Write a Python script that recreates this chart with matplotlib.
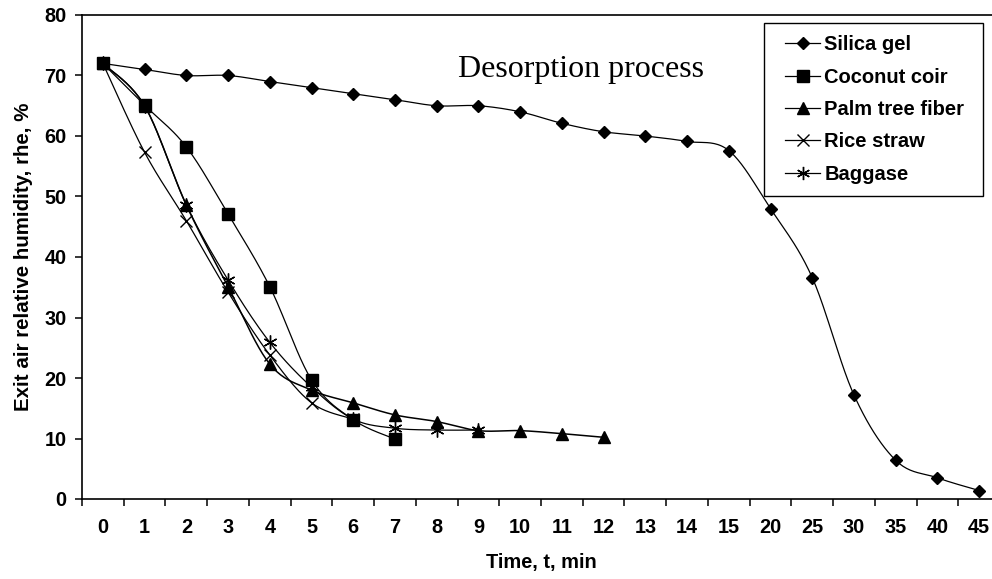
import numpy as np
import matplotlib
matplotlib.use('Agg')
import matplotlib.pyplot as plt
from matplotlib.lines import Line2D
from matplotlib.patches import Rectangle

plt.rcParams['font.family'] = ['Liberation Sans', 'DejaVu Sans']
plt.rcParams['font.weight'] = 'bold'

# time axis is categorical (evenly spaced labels)
time_labels = ['0', '1', '2', '3', '4', '5', '6', '7', '8', '9', '10', '11',
               '12', '13', '14', '15', '20', '25', '30', '35', '40', '45']

silica_gel = [72, 71, 70, 70, 69, 68, 67, 66, 65, 65, 64, 62.1, 60.7, 60, 59.1,
              57.6, 48, 36.6, 17.2, 6.4, 3.5, 1.4]
coconut_coir = [72, 65.1, 58.2, 47.1, 35.1, 19.7, 13.1, 9.9]
palm_fiber = [72, 65, 48.6, 35.1, 22.3, 18.0, 15.9, 13.9, 12.8, 11.3, 11.3, 10.8, 10.2]
rice_straw = [72, 57.3, 46.0, 34.2, 23.8, 15.9, 13.2]
baggase = [72, 65, 48.6, 36.2, 25.9, 18.5, 13.2, 11.7, 11.4, 11.4]

series_names = ['Silica gel', 'Coconut coir', 'Palm tree fiber', 'Rice straw', 'Baggase']
series_data = [silica_gel, coconut_coir, palm_fiber, rice_straw, baggase]


def smooth(xs, ys, n=24):
    # catmull-rom style curve, like excel "smoothed line"
    xs = np.asarray(xs, float)
    ys = np.asarray(ys, float)
    px = np.concatenate([[xs[0]], xs, [xs[-1]]])
    py = np.concatenate([[ys[0]], ys, [ys[-1]]])
    outx, outy = [xs[0]], [ys[0]]
    t = np.linspace(0, 1, n)[1:]
    for i in range(1, len(px) - 2):
        c1x = px[i] + (px[i + 1] - px[i - 1]) / 6
        c1y = py[i] + (py[i + 1] - py[i - 1]) / 6
        c2x = px[i + 1] - (px[i + 2] - px[i]) / 6
        c2y = py[i + 1] - (py[i + 2] - py[i]) / 6
        bx = (1 - t)**3 * px[i] + 3 * (1 - t)**2 * t * c1x + 3 * (1 - t) * t**2 * c2x + t**3 * px[i + 1]
        by = (1 - t)**3 * py[i] + 3 * (1 - t)**2 * t * c1y + 3 * (1 - t) * t**2 * c2y + t**3 * py[i + 1]
        outx.extend(bx)
        outy.extend(by)
    return np.array(outx), np.array(outy)


styles = {
    'Silica gel': dict(marker='D', markersize=6.5, lw=0.9),
    'Coconut coir': dict(marker='s', markersize=8.5, lw=0.9),
    'Palm tree fiber': dict(marker='^', markersize=8.5, lw=1.1),
    'Rice straw': dict(marker='x', markersize=9, lw=0.9),
    'Baggase': dict(marker=(6, 2, 0), markersize=10, lw=0.9),
}

fig = plt.figure(figsize=(9.92, 5.79), dpi=100)
ax = fig.add_axes([82 / 992, 1 - 499 / 579, (1000 - 82) / 992, (499 - 15) / 579])

handles = []
for name, vals in zip(series_names, series_data):
    st = styles[name]
    x = np.arange(len(vals))
    sx, sy = smooth(x, vals)
    ax.plot(sx, sy, color='black', lw=st['lw'], zorder=2)
    ax.plot(x, vals, linestyle='none', marker=st['marker'], markersize=st['markersize'],
            color='black', markeredgewidth=1.0, zorder=3)
    handles.append(Line2D([], [], color='black', lw=0.9, marker=st['marker'],
                          markersize=st['markersize'] * 0.95, markeredgewidth=1.0))

ax.set_xlim(-0.5, len(time_labels) - 0.5)
ax.set_ylim(0, 80)
ax.set_yticks(np.arange(0, 81, 10))
ax.set_xticks(np.arange(len(time_labels)))
ax.set_xticklabels(time_labels)
ax.set_xticks(np.arange(len(time_labels) + 1) - 0.5, minor=True)
ax.tick_params(axis='x', which='major', length=0, pad=14, labelsize=14.3)
ax.tick_params(axis='x', which='minor', length=5, width=1.1, direction='out')
ax.tick_params(axis='y', length=5, width=1.1, direction='out', pad=6, labelsize=14.3)

for s in ['left', 'bottom', 'top', 'right']:
    ax.spines[s].set_linewidth(1.2)

ax.set_xlabel('Time, t, min', fontsize=14.4, fontweight='bold')
ax.xaxis.set_label_coords(0.5, -0.112)
ax.set_ylabel('Exit air relative humidity, rhe, %', fontsize=14.8, fontweight='bold')
ax.yaxis.set_label_coords(-0.053, 0.5)

ax.text(11.47, 69.7, 'Desorption process', family='Liberation Serif', fontweight='normal',
        fontsize=23, ha='center', va='baseline')

leg = fig.legend(handles, series_names, loc='upper left',
                 bbox_to_anchor=(785 / 992, 1 - 35.5 / 579), bbox_transform=fig.transFigure,
                 frameon=False, borderpad=0, borderaxespad=0, handlelength=1.75,
                 handletextpad=0.2, labelspacing=0.66, numpoints=1,
                 prop=dict(family='Liberation Sans', weight='bold', size=14.5))
fig.patches.append(Rectangle((764 / 992, 1 - 196 / 579), (983 - 764) / 992, (196 - 22.7) / 579,
                             transform=fig.transFigure, fill=False, edgecolor='black', lw=1.0))

fig.savefig('out.png', dpi=100)
